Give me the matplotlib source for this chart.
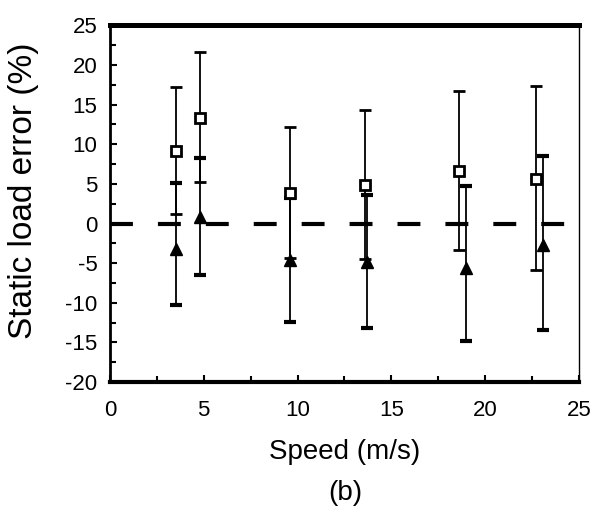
import numpy as np
import matplotlib
matplotlib.use("Agg")
import matplotlib.pyplot as plt
from matplotlib.ticker import MultipleLocator

plt.rcParams["font.family"] = ["Liberation Sans", "DejaVu Sans"]
plt.rcParams["lines.scale_dashes"] = False
plt.rcParams["axes.unicode_minus"] = False

# squares (open markers)
speed_sq = [3.5, 4.8, 9.6, 13.6, 18.6, 22.7]
err_sq = [9.2, 13.3, 3.9, 4.9, 6.6, 5.6]
sq_low = [1.2, 5.2, -4.4, -4.5, -3.4, -5.9]
sq_high = [17.2, 21.6, 12.2, 14.3, 16.7, 17.3]

# triangles (filled markers)
speed_tri = [3.5, 4.8, 9.6, 13.7, 19.0, 23.1]
err_tri = [-3.2, 0.8, -4.6, -4.8, -5.6, -2.7]
tri_low = [-10.3, -6.5, -12.4, -13.2, -14.8, -13.4]
tri_high = [5.1, 8.2, 3.2, 3.6, 4.7, 8.5]

# zero reference line
ref_x = [0, 25]
ref_y = [0, 0]


def asym(vals, lo, hi):
    vals = np.array(vals)
    return [vals - np.array(lo), np.array(hi) - vals]


fig = plt.figure(figsize=(5.97, 5.15), dpi=100)
ax = fig.add_axes([0.184, 0.258, 0.786, 0.693])

ax.plot(ref_x, ref_y, color="black", lw=3, dashes=(16.5, 18), zorder=1)

ax.errorbar(speed_sq, err_sq, yerr=asym(err_sq, sq_low, sq_high),
            fmt="s", ms=7.5, mfc="white", mec="black", mew=2,
            ecolor="black", elinewidth=1.3, capsize=4.5, capthick=3,
            color="black", zorder=3)
ax.errorbar(speed_tri, err_tri, yerr=asym(err_tri, tri_low, tri_high),
            fmt="^", ms=8, mfc="black", mec="black",
            ecolor="black", elinewidth=1.3, capsize=4.5, capthick=3,
            color="black", zorder=3)

ax.set_xlim(0, 25)
ax.set_ylim(-20, 25)
ax.xaxis.set_major_locator(MultipleLocator(5))
ax.xaxis.set_minor_locator(MultipleLocator(2.5))
ax.yaxis.set_major_locator(MultipleLocator(5))
ax.yaxis.set_minor_locator(MultipleLocator(2.5))

ax.tick_params(which="both", direction="in", width=1.5, top=False, right=False)
ax.tick_params(which="major", length=5)
ax.tick_params(which="minor", length=4)
ax.tick_params(axis="x", which="major", labelsize=16, pad=13)
ax.tick_params(axis="y", which="major", labelsize=16, pad=9)

ax.spines["top"].set_linewidth(3.6)
ax.spines["bottom"].set_linewidth(3)
ax.spines["left"].set_linewidth(2)
ax.spines["right"].set_linewidth(1)

ax.set_xlabel("Speed (m/s)", fontsize=20)
ax.xaxis.set_label_coords(0.5, -0.16)
ax.set_ylabel("Static load error (%)", fontsize=24)
ax.yaxis.set_label_coords(-0.15, 0.535)

fig.text(0.578, 0.043, "(b)", fontsize=20, ha="center", va="center")

fig.savefig("out.png", dpi=100)
